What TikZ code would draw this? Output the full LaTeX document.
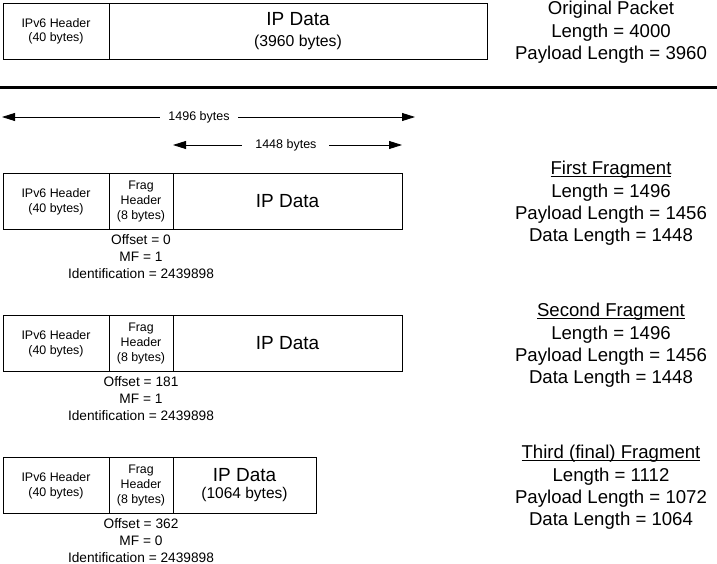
\documentclass[tikz,border=0pt]{standalone}
\usepackage{fontspec}
\setmainfont{Liberation Sans}
\usetikzlibrary{arrows.meta}

\begin{document}
\begin{tikzpicture}[x=1pt,y=-1pt,
  cell/.style={draw, line width=0.8pt, outer sep=0pt, inner sep=0pt, minimum height=56.5pt,
    anchor=north west, align=center, font=\fontsize{12.4}{14.6}\selectfont},
  note/.style={anchor=north, inner sep=0pt, align=center, font=\fontsize{13.7}{16.8}\selectfont},
  info/.style={inner sep=0pt, align=center, font=\fontsize{18.6}{22.4}\selectfont},
  dim/.style={{Triangle[length=13pt,width=8pt]}-{Triangle[length=13pt,width=8pt]}, line width=0.8pt},
  dimlabel/.style={fill=white, inner ysep=2pt, font=\fontsize{12.5}{15}\selectfont}]
\useasboundingbox (0,0) rectangle (717,564);

% Original packet
\node[cell, minimum width=106pt] (orig-hdr) at (3,3) {IPv6 Header\\(40 bytes)};
\node[cell, minimum width=378pt, font=\fontsize{15.8}{21.5}\selectfont] (orig-data) at (orig-hdr.north east)
  {{\fontsize{19}{21.5}\selectfont IP Data}\\(3960 bytes)};
\node[info] (orig-info) at (611,32.3) {Original Packet\\Length = 4000\\Payload Length = 3960};

\draw[line width=3pt] (0,88) -- (717,88);

% Fragment sizes
\coordinate (tot-l) at (2,117);
\coordinate (tot-r) at (415,117);
\draw[dim] (tot-l) -- node[dimlabel, pos=0.477, inner xsep=8.5pt] (tot-lbl) {1496 bytes} (tot-r);
\coordinate (dat-l) at (173,145);
\coordinate (dat-r) at (402,145);
\draw[dim] (dat-l) -- node[dimlabel, pos=0.493, inner xsep=13pt] (dat-lbl) {1448 bytes} (dat-r);

% First fragment
\node[cell, minimum width=106pt] (fa-hdr) at (3,173.3) {IPv6 Header\\(40 bytes)};
\node[cell, minimum width=64pt] (fa-frag) at (fa-hdr.north east) {Frag\\Header\\(8 bytes)};
\node[cell, minimum width=229pt, font=\fontsize{19}{22}\selectfont] (fa-data) at (fa-frag.north east) {IP Data};
\node[note] (fa-note) at ([yshift=-5pt]fa-frag.south) {Offset = 0\\MF = 1\\Identification = 2439898};
\node[info] (fa-info) at (611,203.5) {\underbar{First Fragment}\\Length = 1496\\Payload Length = 1456\\Data Length = 1448};

% Second fragment
\node[cell, minimum width=106pt] (fb-hdr) at (3,315.3) {IPv6 Header\\(40 bytes)};
\node[cell, minimum width=64pt] (fb-frag) at (fb-hdr.north east) {Frag\\Header\\(8 bytes)};
\node[cell, minimum width=229pt, font=\fontsize{19}{22}\selectfont] (fb-data) at (fb-frag.north east) {IP Data};
\node[note] (fb-note) at ([yshift=-5pt]fb-frag.south) {Offset = 181\\MF = 1\\Identification = 2439898};
\node[info] (fb-info) at (611,345.4) {\underbar{Second Fragment}\\Length = 1496\\Payload Length = 1456\\Data Length = 1448};

% Third (final) fragment
\node[cell, minimum width=106pt] (fc-hdr) at (3,457.3) {IPv6 Header\\(40 bytes)};
\node[cell, minimum width=64pt] (fc-frag) at (fc-hdr.north east) {Frag\\Header\\(8 bytes)};
\node[cell, minimum width=143pt, font=\fontsize{15.5}{17}\selectfont] (fc-data) at (fc-frag.north east)
  {{\fontsize{19}{17}\selectfont IP Data}\\(1064 bytes)};
\node[note] (fc-note) at ([yshift=-5pt]fc-frag.south) {Offset = 362\\MF = 0\\Identification = 2439898};
\node[info] (fc-info) at (611,487.4) {\underbar{Third (final) Fragment}\\Length = 1112\\Payload Length = 1072\\Data Length = 1064};
\end{tikzpicture}
\end{document}
